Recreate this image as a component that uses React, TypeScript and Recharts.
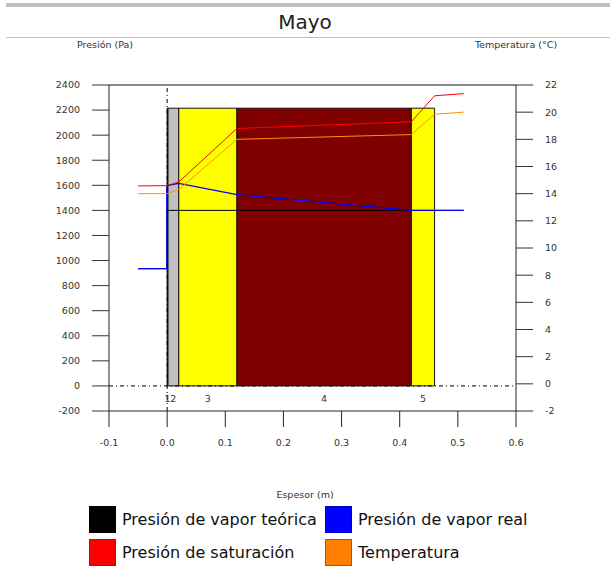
import React from 'react';
import {
  ComposedChart,
  Line,
  XAxis,
  YAxis,
  ReferenceArea,
  ReferenceLine,
} from 'recharts';

// ---- Data ----
const xTicks = [-0.1, 0, 0.1, 0.2, 0.3, 0.4, 0.5, 0.6];
const pressureTicks = [-200, 0, 200, 400, 600, 800, 1000, 1200, 1400, 1600, 1800, 2000, 2200, 2400];
const tempTicks = [-2, 0, 2, 4, 6, 8, 10, 12, 14, 16, 18, 20, 22];

const layerNames = ['1', '2', '3', '4', '5'];
const layerStart = [0, 0.0015, 0.02, 0.12, 0.42];
const layerEnd = [0.0015, 0.02, 0.12, 0.42, 0.46];
const layerTop = 2215;

const profileX = [-0.05, 0, 0.02, 0.12, 0.42, 0.46, 0.51];
const saturationP = [1595, 1597, 1627, 2053, 2107, 2314, 2331];
const temperatureC = [14.0, 14.0, 14.3, 18.0, 18.35, 19.85, 20.0];

const realX = [-0.05, -0.0005, -0.0005, 0.02, 0.12, 0.42, 0.51];
const realP = [935, 935, 1598, 1615, 1526, 1400, 1400];

const theoX = [-0.05, 0, 0, 0.51];
const theoP = [935, 935, 1400, 1400];

const legendNames = [
  'Presión de vapor teórica',
  'Presión de vapor real',
  'Presión de saturación',
  'Temperatura',
];

// ---- Styles ----
const layerFills = ['#000000', '#c0c0c0', '#ffff00', '#800000', '#ffff00'];
const legendFills = ['#000000', '#0000ff', '#ff0000', '#ff8000'];
const legendBorders = ['#000000', '#0000cc', '#d00000', '#c05000'];
const FONT = '"DejaVu Sans", Verdana, sans-serif';

const zip = (xs: number[], ys: number[]) => xs.map((x, i) => ({ x, y: ys[i] }));

const satData = zip(profileX, saturationP);
const tempData = zip(profileX, temperatureC);
const realData = zip(realX, realP);
const theoData = zip(theoX, theoP);

const tickStyle = { fontSize: 9.5, fill: '#333', fontFamily: FONT };

export default function App() {
  return (
    <div
      style={{
        position: 'absolute',
        left: 0,
        top: 0,
        width: 610,
        height: 579,
        background: '#fff',
        fontFamily: FONT,
        overflow: 'hidden',
      }}
    >
      <div style={{ position: 'absolute', left: 0, top: 0 }}>
        <ComposedChart
          width={610}
          height={579}
          margin={{ top: 85, right: 34, bottom: 128, left: 49 }}
        >
          <XAxis
            type="number"
            dataKey="x"
            domain={[-0.1, 0.6]}
            ticks={xTicks}
            interval={0}
            allowDataOverflow
            tickFormatter={(v: number) => v.toFixed(1)}
            tickSize={16}
            tickMargin={12}
            height={40}
            tick={tickStyle}
            axisLine={{ stroke: '#222' }}
            tickLine={{ stroke: '#222' }}
          />
          <YAxis
            yAxisId="left"
            orientation="left"
            type="number"
            domain={[-200, 2400]}
            ticks={pressureTicks}
            interval={0}
            allowDataOverflow
            width={60}
            tickSize={17}
            tickMargin={12}
            tick={tickStyle}
            axisLine={{ stroke: '#222' }}
            tickLine={{ stroke: '#333' }}
          />
          <YAxis
            yAxisId="right"
            orientation="right"
            type="number"
            domain={[-2, 22]}
            ticks={tempTicks}
            interval={0}
            allowDataOverflow
            width={60}
            tickSize={17}
            tickMargin={12}
            tick={tickStyle}
            axisLine={{ stroke: '#222' }}
            tickLine={{ stroke: '#333' }}
          />
          <ReferenceLine yAxisId="left" y={2400} stroke="#888" strokeWidth={2} />
          <ReferenceLine yAxisId="left" x={0} stroke="#000" strokeDasharray="4 3 1 3" />
          {layerNames.map((name, i) => (
            <ReferenceArea
              key={name}
              yAxisId="left"
              x1={layerStart[i]}
              x2={layerEnd[i]}
              y1={0}
              y2={layerTop}
              fill={layerFills[i]}
              fillOpacity={1}
              stroke="#111"
              strokeWidth={1}
              label={{
                value: name,
                position: 'bottom',
                offset: 9,
                fontSize: 9.5,
                fill: '#333',
                fontFamily: FONT,
              }}
            />
          ))}
          <ReferenceLine yAxisId="left" y={0} stroke="#000" strokeDasharray="4 3 1 3" />
          <Line
            yAxisId="left"
            data={theoData}
            dataKey="y"
            type="linear"
            stroke="#000000"
            strokeWidth={1}
            dot={false}
            isAnimationActive={false}
          />
          <Line
            yAxisId="left"
            data={realData}
            dataKey="y"
            type="linear"
            stroke="#0000ff"
            strokeWidth={1.3}
            dot={false}
            isAnimationActive={false}
          />
          <Line
            yAxisId="left"
            data={satData}
            dataKey="y"
            type="linear"
            stroke="#ff0000"
            strokeWidth={1}
            dot={false}
            isAnimationActive={false}
          />
          <Line
            yAxisId="right"
            data={tempData}
            dataKey="y"
            type="linear"
            stroke="#ff9000"
            strokeWidth={1}
            dot={false}
            isAnimationActive={false}
          />
        </ComposedChart>
      </div>

      {/* title bars */}
      <div style={{ position: 'absolute', left: 6, top: 3, width: 604, height: 4, background: '#c0c0c0', zIndex: 2 }} />
      <div
        style={{
          position: 'absolute',
          left: 0,
          width: 610,
          top: 10,
          textAlign: 'center',
          fontSize: 20,
          color: '#222',
          lineHeight: '24px',
        }}
      >
        Mayo
      </div>
      <div style={{ position: 'absolute', left: 6, top: 37, width: 604, height: 1, background: '#c0c0c0', zIndex: 2 }} />
      <div
        style={{
          position: 'absolute',
          left: 55,
          width: 100,
          top: 39,
          textAlign: 'center',
          fontSize: 9.5,
          color: '#333',
          lineHeight: '12px',
        }}
      >
        Presión (Pa)
      </div>
      <div
        style={{
          position: 'absolute',
          left: 456,
          width: 120,
          top: 39,
          textAlign: 'center',
          fontSize: 9.5,
          color: '#333',
          lineHeight: '12px',
        }}
      >
        Temperatura (°C)
      </div>

      <div
        style={{
          position: 'absolute',
          left: 0,
          width: 610,
          top: 489,
          textAlign: 'center',
          fontSize: 9.5,
          color: '#333',
          lineHeight: '12px',
        }}
      >
        Espesor (m)
      </div>

      {legendNames.map((name, i) => {
        const col = i % 2;
        const row = Math.floor(i / 2);
        const left = col === 0 ? 89 : 325;
        const top = row === 0 ? 506 : 539;
        return (
          <div
            key={name}
            style={{
              position: 'absolute',
              left,
              top,
              height: 27,
              display: 'flex',
              alignItems: 'center',
              whiteSpace: 'nowrap',
            }}
          >
            <div
              style={{
                width: 25,
                height: 25,
                background: legendFills[i],
                border: `1px solid ${legendBorders[i]}`,
              }}
            />
            <span style={{ marginLeft: 6, fontSize: 16, color: '#111' }}>{name}</span>
          </div>
        );
      })}
    </div>
  );
}
